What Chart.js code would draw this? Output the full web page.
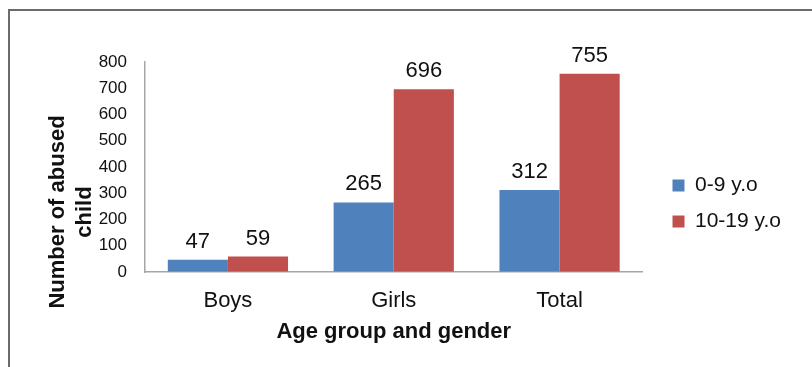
<!DOCTYPE html>
<html>
<head>
<meta charset="utf-8">
<script src="https://cdn.jsdelivr.net/npm/chart.js@4"></script>
<style>
  html, body { margin: 0; padding: 0; background: #fff; }
  #wrap { position: relative; width: 812px; height: 367px; overflow: hidden; }
  #frame { position: absolute; left: 8px; top: 9px; width: 900px; height: 500px;
           border-left: 2px solid #6b6b6b; border-top: 2px solid #6b6b6b; }
  #canvas { position: absolute; left: 0; top: 0; }
</style>
</head>
<body>
<div id="wrap">
  <div id="frame"></div>
  <canvas id="canvas" width="812" height="367"></canvas>
</div>
<script>
const categories = ['Boys', 'Girls', 'Total'];
const young = [47, 265, 312];
const older = [59, 696, 755];
const seriesNames = ['0-9 y.o', '10-19 y.o'];
const yTicks = [0, 100, 200, 300, 400, 500, 600, 700, 800];
const yTitle = ['Number of abused', 'child'];
const xTitle = 'Age group and gender';

const FONT = "'Liberation Sans', Arial, sans-serif";

// valeurs au-dessus des barres
const barValues = {
    id: 'barValues',
    afterDatasetsDraw(chart) {
        const ctx = chart.ctx;
        ctx.save();
        ctx.font = '22px ' + FONT;
        ctx.fillStyle = '#111';
        ctx.textAlign = 'center';
        ctx.textBaseline = 'alphabetic';
        chart.data.datasets.forEach((ds, i) => {
            chart.getDatasetMeta(i).data.forEach((bar, j) => {
                ctx.fillText(ds.data[j], bar.x, bar.y - 12);
            });
        });
        ctx.restore();
    }
};

// titre de l'axe y sur deux lignes, un peu plus bas que le centre
const sideTitle = {
    id: 'sideTitle',
    afterDraw(chart) {
        const ctx = chart.ctx;
        const a = chart.chartArea;
        ctx.save();
        ctx.font = 'bold 22px ' + FONT;
        ctx.fillStyle = '#111';
        ctx.textAlign = 'center';
        ctx.textBaseline = 'middle';
        ctx.translate(58, (a.top + a.bottom) / 2 + 45);
        ctx.rotate(-Math.PI / 2);
        yTitle.forEach((line, i) => ctx.fillText(line, 0, i * 27));
        ctx.restore();
    }
};

// place la légende à droite du graphique
const moveLegend = {
    id: 'moveLegend',
    afterLayout(chart) {
        const lg = chart.legend;
        const dx = chart.chartArea.right + 15 - lg.left;
        lg.left += dx; lg.right += dx;
        const h = lg.bottom - lg.top;
        lg.top = 160; lg.bottom = 160 + h;
    }
};

const ctx = document.getElementById('canvas').getContext('2d');

new Chart(ctx, {
    type: 'bar',
    data: {
        labels: categories,
        datasets: [
            { label: seriesNames[0], data: young, backgroundColor: '#4F81BD' },
            { label: seriesNames[1], data: older, backgroundColor: '#C0504D' }
        ]
    },
    options: {
        responsive: false,
        animation: false,
        layout: { padding: { top: 62, right: 36, bottom: 0, left: 0 } },
        datasets: { bar: { categoryPercentage: 0.725, barPercentage: 1.0 } },
        scales: {
            x: {
                grid: { display: true, drawOnChartArea: false, drawTicks: false },
                border: { display: true, color: '#a6a6a6', width: 1.5 },
                ticks: { color: '#111', padding: 16, font: { family: FONT, size: 22 } },
                title: { display: true, text: xTitle, color: '#111',
                         font: { family: FONT, size: 22, weight: 'bold' },
                         padding: { top: 0, bottom: 22 } },
                afterFit(scale) { scale.height = 95; }
            },
            y: {
                min: 0, max: 800,
                grid: { display: true, drawOnChartArea: false, drawTicks: false },
                border: { display: true, color: '#a6a6a6', width: 1.5 },
                afterBuildTicks(scale) { scale.ticks = yTicks.map(v => ({ value: v })); },
                ticks: { color: '#111', padding: 18, font: { family: FONT, size: 17 } },
                afterFit(scale) { scale.width = 145; }
            }
        },
        plugins: {
            legend: {
                position: 'right',
                align: 'start',
                labels: {
                    boxWidth: 12, boxHeight: 12, padding: 15, color: '#111',
                    font: { family: FONT, size: 21 }
                }
            },
            tooltip: { enabled: false }
        }
    },
    plugins: [barValues, sideTitle, moveLegend]
});
</script>
</body>
</html>
